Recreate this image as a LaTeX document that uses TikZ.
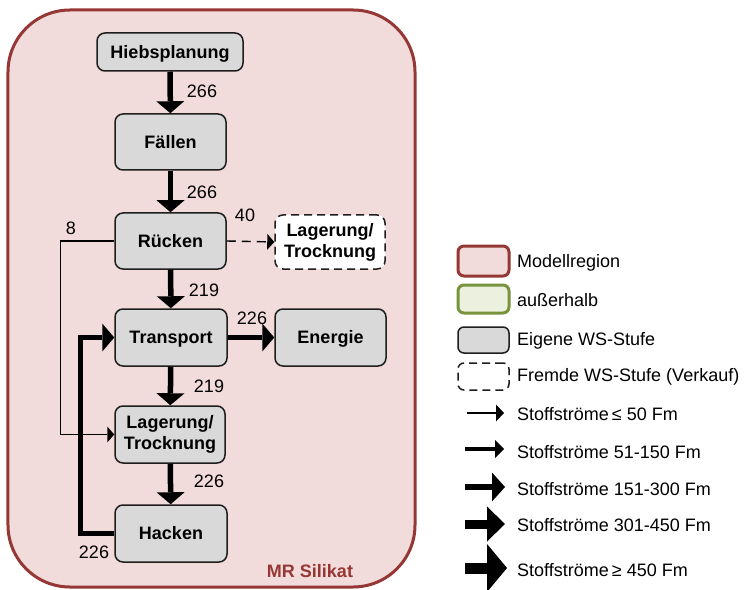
\documentclass[tikz,border=0pt]{standalone}
\usepackage{fontspec}
\setmainfont{Liberation Sans}
\usetikzlibrary{arrows.meta}

\definecolor{regionred}{RGB}{149,55,53}
\definecolor{regionfill}{RGB}{242,220,219}
\definecolor{outgreen}{RGB}{119,147,60}
\definecolor{outfill}{RGB}{235,241,222}
\definecolor{stepgrey}{RGB}{217,217,217}
\definecolor{stepline}{RGB}{30,30,30}

\tikzset{
  txt/.style={font=\fontsize{18bp}{21bp}\selectfont},
  stepbox/.style={txt, font=\fontsize{18bp}{21bp}\selectfont\bfseries, draw=stepline, line width=1.5bp,
    fill=stepgrey, rounded corners=8bp, align=center, inner sep=0pt},
  oneline/.style={text height=12.9bp, text depth=0pt},
  salebox/.style={stepbox, fill=white, dashed, dash pattern=on 8bp off 5bp},
  qty/.style={txt, inner sep=0pt},
  flowS/.style={line width=1.4bp, -{Triangle[width=16bp,length=7bp,line width=0pt]}},
  flowL/.style={line width=5.5bp, line join=miter, -{Triangle[width=28bp,length=12bp,line width=0pt]}},
  legbox/.style={rounded corners=6bp, minimum width=51bp, inner sep=0pt},
  legtext/.style={txt, anchor=west, inner sep=0pt},
}

\begin{document}
\begin{tikzpicture}[x=1bp, y=-1bp]
\useasboundingbox[fill=white] (0,0) rectangle (746,590);

% model region frame
\node[draw=regionred, line width=3bp, fill=regionfill, rounded corners=62bp,
      minimum width=407bp, minimum height=577bp, inner sep=0pt] (region) at (211.5,298.5) {};
\node[txt, oneline, font=\fontsize{18bp}{21bp}\selectfont\bfseries, text=regionred, inner sep=0pt] (mr) at (310,571) {MR Silikat};

% process steps
\node[stepbox, oneline, minimum width=146bp, minimum height=38bp] (hieb) at (170,52) {Hiebsplanung};
\node[stepbox, oneline, minimum width=111bp, minimum height=56bp] (fael) at (170.5,142) {Fällen};
\node[stepbox, oneline, minimum width=111bp, minimum height=56bp] (ruck) at (170.5,241) {Rücken};
\node[salebox, minimum width=110bp, minimum height=54bp] (lagd) at (330,242) {Lagerung/\\Trocknung};
\node[stepbox, oneline, minimum width=112bp, minimum height=57bp] (trans) at (171,337.5) {Transport};
\node[stepbox, oneline, minimum width=111bp, minimum height=57bp] (ener) at (330.5,337.5) {Energie};
\node[stepbox, minimum width=110bp, minimum height=57bp] (lagg) at (170,434.5) {Lagerung/\\Trocknung};
\node[stepbox, oneline, minimum width=112bp, minimum height=57bp] (hack) at (171,533.5) {Hacken};

% small flows
\draw[flowS] (ruck.west) -- ++(-54,0) |- (lagg.west);
\draw[flowS, dashed, dash pattern=on 9bp off 6bp] (ruck.east) -- (lagd.west);

% main flows
\draw[flowL] (hieb) -- (fael);
\draw[flowL] (fael) -- (ruck);
\draw[flowL] (ruck) -- (trans);
\draw[flowL] (trans) -- (lagg);
\draw[flowL] (lagg) -- (hack);
\draw[flowL] (trans) -- (ener);
\draw[flowL] (hack.west) -- ++(-34,0) |- (trans.west);

% quantities
\node[qty] (q1) at (202,91) {266};
\node[qty] (q2) at (202,192) {266};
\node[qty] (q3) at (245,215) {40};
\node[qty] (q4) at (71,228) {8};
\node[qty] (q5) at (204,290) {219};
\node[qty] (q6) at (252,318) {226};
\node[qty] (q7) at (209,386) {219};
\node[qty] (q8) at (209,481) {226};
\node[qty] (q9) at (94,552) {226};

% legend: boxes
\node[legbox, draw=regionred, line width=3bp, fill=regionfill, minimum height=30bp] (l1) at (483.5,261) {};
\node[legbox, draw=outgreen, line width=3bp, fill=outfill, minimum height=28bp] (l2) at (483.5,299) {};
\node[legbox, draw=stepline, line width=1.5bp, fill=stepgrey, minimum height=26bp] (l3) at (483.5,340) {};
\node[legbox, draw=stepline, line width=1.5bp, dashed, dash pattern=on 8bp off 5bp, minimum height=27bp] (l4) at (483.5,376.5) {};
\node[legtext] (t1) at (517,263) {Modellregion};
\node[legtext] (t2) at (517,300) {außerhalb};
\node[legtext] (t3) at (517,341) {Eigene WS-Stufe};
\node[legtext] (t4) at (517,377) {Fremde WS-Stufe (Verkauf)};

% legend: flow widths
\coordinate (a1s) at (467,413);  \coordinate (a1e) at (504,413);
\coordinate (a2s) at (465,449);  \coordinate (a2e) at (504,449);
\coordinate (a3s) at (465,487);  \coordinate (a3e) at (505,487);
\coordinate (a4s) at (465,524);  \coordinate (a4e) at (505,524);
\coordinate (a5s) at (465,568);  \coordinate (a5e) at (507,568);
\draw[line width=1.5bp, -{Triangle[width=17bp,length=8bp,line width=0pt]}] (a1s) -- (a1e);
\draw[line width=3.5bp, -{Triangle[width=18bp,length=9bp,line width=0pt]}] (a2s) -- (a2e);
\draw[line width=6bp, -{Triangle[width=29bp,length=13bp,line width=0pt]}] (a3s) -- (a3e);
\draw[line width=9bp, -{Triangle[width=35bp,length=18bp,line width=0pt]}] (a4s) -- (a4e);
\draw[line width=11bp, -{Triangle[width=48bp,length=20bp,line width=0pt]}] (a5s) -- (a5e);
\node[legtext] (s1) at (517,414) {Stoffströme\,≤ 50 Fm};
\node[legtext] (s2) at (517,452) {Stoffströme 51-150 Fm};
\node[legtext] (s3) at (517,489) {Stoffströme 151-300 Fm};
\node[legtext] (s4) at (517,525) {Stoffströme 301-450 Fm};
\node[legtext] (s5) at (517,570) {Stoffströme\,≥ 450 Fm};
\end{tikzpicture}
\end{document}
